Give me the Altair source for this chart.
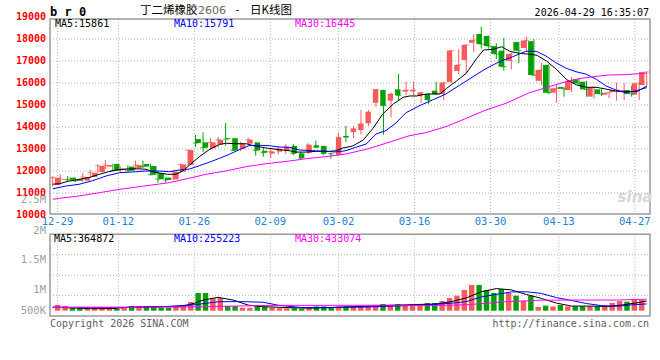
import altair as alt
import pandas as pd

# ---------------- data ----------------
open_p = [11360, 11600, 11700, 11640, 11560, 11730, 11950, 12200, 12320, 12050,
          12200, 12120, 12320, 12230, 11900, 11700, 11620, 11970, 12270, 13450,
          13300, 13030, 13210, 13490, 13490, 13000, 13240, 13300, 12920, 12790,
          12880, 12910, 13140, 12800, 12830, 13170, 13140, 12800, 12720, 13590,
          13770, 13860, 14170, 15100, 15680, 15200, 15710, 15610, 15620, 15440,
          15500, 15650, 15500, 16050, 16550, 17050, 17830, 18230, 18140, 17680,
          17470, 17010, 17860, 17590, 17900, 16100, 16820, 15560, 15820, 15680,
          16170, 16060, 15380, 15710, 15470, 15590, 15630, 15680, 15470, 15910]
high_p = [11780, 11860, 11770, 11710, 11900, 12050, 12320, 12500, 12330, 12200,
          12260, 12470, 12470, 12320, 11990, 11700, 11990, 12330, 12960, 13640,
          13760, 13490, 13550, 14180, 13500, 13330, 13510, 13310, 13090, 13050,
          13090, 13220, 13230, 12860, 13260, 13380, 13150, 12820, 13740, 14050,
          14050, 14770, 14770, 15720, 15700, 15560, 16410, 16050, 16080, 15600,
          15520, 16050, 16060, 17470, 17530, 17730, 18230, 18560, 18150, 17800,
          18050, 17380, 17870, 18110, 17990, 16920, 16850, 15910, 15830, 16260,
          16200, 16100, 15820, 15720, 15600, 16010, 15990, 15860, 16000, 16520]
low_p = [11300, 11440, 11520, 11500, 11510, 11700, 11900, 12080, 12000, 11930,
         11970, 12050, 12140, 11800, 11470, 11470, 11580, 11950, 12240, 13090,
         12850, 12970, 13060, 13150, 12900, 12910, 13220, 12700, 12640, 12600,
         12760, 12760, 12710, 12530, 12770, 13050, 12740, 12560, 12700, 13320,
         13500, 13650, 14050, 14920, 13650, 14440, 15200, 15440, 15440, 15100,
         15050, 15480, 15230, 16000, 16410, 16440, 17410, 17560, 17560, 17080,
         16560, 16620, 16900, 17410, 16320, 15910, 15500, 15100, 15380, 15590,
         15860, 15380, 15290, 15410, 15320, 15200, 15230, 15380, 15230, 15850]
close_p = [11700, 11630, 11600, 11560, 11730, 11920, 12230, 12270, 12010, 12100,
           12010, 12270, 12200, 11830, 11630, 11590, 11970, 12300, 12950, 13270,
           13060, 13300, 13420, 13450, 12940, 13240, 13420, 12940, 12830, 12880,
           13000, 13090, 12800, 12590, 13180, 13080, 12800, 12780, 13530, 13540,
           13920, 14140, 14680, 15710, 14970, 15500, 15440, 15680, 15680, 15560,
           15230, 15500, 16010, 17470, 16820, 17730, 17950, 17770, 17680, 17320,
           16740, 17320, 17470, 17930, 16360, 16590, 15560, 15760, 15740, 16100,
           15990, 15710, 15800, 15500, 15560, 15680, 15660, 15500, 15990, 16500]
volume = [214000, 176000, 94000, 94000, 75000, 75000, 139000, 139000, 75000, 139000,
          176000, 176000, 176000, 176000, 113000, 113000, 139000, 214000, 326000, 664000,
          664000, 476000, 476000, 176000, 176000, 113000, 113000, 176000, 139000, 113000,
          94000, 94000, 94000, 75000, 94000, 161000, 161000, 113000, 161000, 161000,
          161000, 161000, 161000, 161000, 251000, 214000, 251000, 214000, 214000, 251000,
          289000, 289000, 364000, 476000, 563000, 776000, 964000, 964000, 776000, 664000,
          814000, 664000, 563000, 364000, 563000, 139000, 188000, 161000, 214000, 161000,
          161000, 161000, 161000, 161000, 161000, 289000, 364000, 338000, 401000, 401000]

# moving-average lines (candle index, value)
ma5_i = [0, 0.9, 2, 3.5, 4.9, 6.2, 7.3, 8.4, 9.8, 11.1, 12.4, 13.3, 14.4, 15.3, 16.4, 17.3,
         18.2, 19.5, 20.9, 22.2, 23.1, 24.4, 25.7, 27.1, 28.4, 29.7, 31.5, 32.4, 33.7, 35.1,
         36.8, 37.7, 38.6, 39.9, 41.3, 42.6, 43.9, 45.3, 46.6, 47.5, 48.4, 49.7, 51.5, 52.4,
         53.7, 55, 56.4, 57.3, 58.6, 59.7, 60.8, 62.1, 63.5, 64.4, 65.7, 67, 68.4, 69.7, 71,
         72.3, 73.7, 75, 76.3, 77.7, 79]
ma5_v = [11400, 11420, 11530, 11620, 11710, 11850, 11955, 12045, 12090, 12100, 12080, 11970,
         11895, 11850, 11850, 12000, 12270, 12650, 12990, 13210, 13260, 13240, 13240, 13120,
         13045, 12990, 12920, 12860, 12860, 12895, 12895, 12920, 13045, 13136, 13410, 13940,
         14590, 15045, 15350, 15410, 15410, 15500, 15500, 15760, 16090, 16440, 17120, 17500,
         17530, 17650, 17440, 17350, 17305, 17260, 16990, 16620, 16140, 15910, 15805, 15805,
         15715, 15620, 15620, 15605, 15861]
ma10_i = [0, 1.8, 3.5, 5.3, 7.1, 8.9, 10.6, 12.4, 14.2, 15.5, 16.8, 18.2, 19.5, 20.8, 22.2,
          23.5, 24.8, 26.1, 27.5, 28.8, 30.1, 31.5, 32.8, 34.6, 36.3, 37.7, 39, 40.3, 41.7,
          43, 44.3, 45.6, 47, 48.7, 50.5, 52.3, 54.1, 55.9, 57.6, 59.4, 61.2, 62.9, 64.3,
          65.6, 66.9, 68.3, 69.6, 70.9, 72.3, 73.6, 74.9, 76.2, 77.6, 79]
ma10_v = [11190, 11318, 11395, 11559, 11773, 11923, 11955, 12000, 12000, 11968, 12045, 12090,
          12240, 12395, 12577, 12760, 12968, 13150, 13168, 13150, 13091, 13077, 12955, 12923,
          12895, 12864, 12923, 13077, 13227, 13682, 13832, 14168, 14650, 14955, 15227, 15500,
          15895, 16286, 16650, 16968, 17195, 17440, 17441, 17227, 16923, 16668, 16514, 16409,
          16168, 15864, 15682, 15559, 15650, 15791]
ma30_i = [0, 0.9, 3.5, 6.2, 8.9, 11.5, 14.2, 15.5, 17.7, 20.4, 23, 25.7, 28.4, 31.5, 33.7,
          36.3, 39, 41.7, 44.3, 47.4, 49.6, 52.3, 55, 57.6, 60.3, 63.4, 66, 68.3, 70, 71.8,
          74, 76.2, 79]
ma30_v = [10714, 10759, 10864, 11014, 11168, 11286, 11409, 11470, 11636, 11850, 12000, 12195,
          12332, 12455, 12559, 12650, 12773, 12986, 13259, 13600, 13741, 14014, 14395, 14773,
          15077, 15559, 15832, 16059, 16195, 16286, 16364, 16380, 16445]

vma5_i = [0, 3, 5, 8, 10, 14, 17, 19, 20, 22, 24, 26, 28, 31, 34, 37, 40, 44, 48, 51, 53,
          55, 57, 59, 61, 63, 65, 67, 69, 72, 74, 76, 78, 79]
vma5_v = [130000, 100000, 75000, 80000, 130000, 150000, 150000, 290000, 400000, 500000,
          400000, 210000, 150000, 120000, 95000, 120000, 150000, 190000, 230000, 250000,
          340000, 480000, 710000, 830000, 780000, 610000, 460000, 285000, 175000, 170000,
          160000, 225000, 310000, 364872]
vma10_i = [0, 5, 9, 14, 19, 22, 25, 28, 30, 33, 37, 42, 47, 50, 53, 55, 57, 59, 61, 63, 65,
           67, 69, 71, 73, 75, 77, 79]
vma10_v = [130000, 125000, 122000, 138000, 227000, 336000, 342000, 317000, 205000, 119000,
           114000, 141000, 190000, 217000, 281000, 339000, 515000, 613000, 703000, 711000,
           648000, 490000, 383000, 268000, 191000, 166000, 217000, 255223]
vma30_i = [0, 10, 20, 29, 35, 40, 45, 50, 55, 60, 65, 70, 75, 79]
vma30_v = [125000, 130000, 150000, 200000, 200000, 203000, 209000, 190000, 220000, 336000,
           396000, 400000, 400000, 433074]

tick_idx = [1, 9, 19, 29, 38, 48, 58, 67, 77]
tick_lbl = ["12-29", "01-12", "01-26", "02-09", "03-02", "03-16", "03-30", "04-13", "04-27"]
price_ticks = [10000, 11000, 12000, 13000, 14000, 15000, 16000, 17000, 18000, 19000]
vol_ticks = [500000, 1000000, 1500000, 2000000]
vol_lbls = ["500K", "1M", "1.5M", "2M"]

# ---------------- styling ----------------
RED = "#f85a5a"
GREEN = "#00a000"
GRID = "#b4b4b4"
FRAME = "#9a9a9a"
MONO = "DejaVu Sans Mono"
CJK = "Noto Sans CJK SC"
W = 600
MAIN_H = 195
VOL_TOP, VOL_BOT = 215.3, 297

n = len(open_p)
candles = pd.DataFrame({
    "i": list(range(n)), "open": open_p, "high": high_p, "low": low_p,
    "close": close_p, "vol": volume,
})
candles["dir"] = ["up" if c >= o else "down" for o, c in zip(open_p, close_p)]
candles["v0"] = 0

XC = alt.Scale(domain=[-0.359, 79.44], nice=False, zero=False)
XG = alt.Scale(domain=[0, 79], nice=False, zero=False)
YP = alt.Scale(domain=[10000, 18909], range=[196, 0], nice=False, zero=False)
YV = alt.Scale(domain=[0, 2000000], range=[291.7, 238.4], nice=False, zero=False)
YVA = alt.Scale(domain=[0, 2000000], range=[VOL_BOT, VOL_TOP], nice=False, zero=False)
CLR = alt.Scale(domain=["up", "down"], range=[RED, GREEN])

base = alt.Chart(candles)
layers = []

# gridlines
pgrid = pd.DataFrame({"p": price_ticks[1:-1]})
layers.append(alt.Chart(pgrid).mark_rule(color=GRID, strokeDash=[1, 2], strokeWidth=1).encode(
    y=alt.Y("p:Q", scale=YP, axis=None), x=alt.value(0), x2=alt.value(W)))
tg = pd.DataFrame({"g": tick_idx, "lbl": tick_lbl})
layers.append(alt.Chart(tg).mark_rule(color=GRID, strokeDash=[1, 2], strokeWidth=1).encode(
    x=alt.X("g:Q", scale=XG, axis=None), y=alt.value(0), y2=alt.value(MAIN_H)))
layers.append(alt.Chart(tg).mark_rule(color=GRID, strokeDash=[1, 2], strokeWidth=1).encode(
    x=alt.X("g:Q", scale=XG, axis=None), y=alt.value(VOL_TOP), y2=alt.value(VOL_BOT)))
vgrid = pd.DataFrame({"v": vol_ticks[:-1]})
layers.append(alt.Chart(vgrid).mark_rule(color=GRID, strokeDash=[1, 2], strokeWidth=1).encode(
    y=alt.Y("v:Q", scale=YVA, axis=None), x=alt.value(0), x2=alt.value(W)))

# frames
one = pd.DataFrame({"k": [0]})
layers.append(alt.Chart(one).mark_rect(fill=None, stroke=FRAME, strokeWidth=1.5).encode(
    x=alt.value(0), x2=alt.value(W), y=alt.value(0), y2=alt.value(MAIN_H)))
layers.append(alt.Chart(one).mark_rect(fill=None, stroke=FRAME, strokeWidth=1.5).encode(
    x=alt.value(0), x2=alt.value(W), y=alt.value(VOL_TOP), y2=alt.value(VOL_BOT)))

# watermark
layers.append(alt.Chart(one).mark_text(text="sina", font="DejaVu Sans", fontSize=15,
                                       fontWeight="bold", fontStyle="italic", color="#d6d6d6",
                                       align="center", baseline="middle").encode(
    x=alt.value(585), y=alt.value(178)))

# candles
layers.append(base.mark_rule(strokeWidth=1).encode(
    x=alt.X("i:Q", scale=XC, axis=None),
    y=alt.Y("low:Q", scale=YP, axis=None), y2="high:Q",
    color=alt.Color("dir:N", scale=CLR, legend=None)))
layers.append(base.mark_bar(size=5.4).encode(
    x=alt.X("i:Q", scale=XC, axis=None),
    y=alt.Y("open:Q", scale=YP, axis=None), y2="close:Q",
    color=alt.Color("dir:N", scale=CLR, legend=None)))
layers.append(base.mark_tick(orient="horizontal", size=5.4, thickness=1).encode(
    x=alt.X("i:Q", scale=XC, axis=None),
    y=alt.Y("close:Q", scale=YP, axis=None),
    color=alt.Color("dir:N", scale=CLR, legend=None)))

# MA lines
MACLR = alt.Scale(domain=["MA5", "MA10", "MA30"], range=["#000000", "#0000ff", "#ff00ff"])
ma = pd.concat([
    pd.DataFrame({"i": ma5_i, "v": ma5_v, "m": "MA5"}),
    pd.DataFrame({"i": ma10_i, "v": ma10_v, "m": "MA10"}),
    pd.DataFrame({"i": ma30_i, "v": ma30_v, "m": "MA30"}),
])
layers.append(alt.Chart(ma).mark_line(strokeWidth=1).encode(
    x=alt.X("i:Q", scale=XC, axis=None), y=alt.Y("v:Q", scale=YP, axis=None),
    color=alt.Color("m:N", scale=MACLR, legend=None), detail="m:N", order="i:Q"))

# volume
layers.append(base.mark_bar(size=5.4).encode(
    x=alt.X("i:Q", scale=XC, axis=None),
    y=alt.Y("vol:Q", scale=YV, axis=None), y2="v0:Q",
    color=alt.Color("dir:N", scale=CLR, legend=None)))
vma = pd.concat([
    pd.DataFrame({"i": vma5_i, "v": vma5_v, "m": "MA5"}),
    pd.DataFrame({"i": vma10_i, "v": vma10_v, "m": "MA10"}),
    pd.DataFrame({"i": vma30_i, "v": vma30_v, "m": "MA30"}),
])
layers.append(alt.Chart(vma).mark_line(strokeWidth=1).encode(
    x=alt.X("i:Q", scale=XC, axis=None), y=alt.Y("v:Q", scale=YV, axis=None),
    color=alt.Color("m:N", scale=MACLR, legend=None), detail="m:N", order="i:Q"))

# axis labels
pl = pd.DataFrame({"p": price_ticks, "t": [str(p) for p in price_ticks]})
layers.append(alt.Chart(pl).mark_text(font=MONO, fontSize=10, fontWeight="bold", color="#ff0000",
                                      align="right", baseline="middle").encode(
    y=alt.Y("p:Q", scale=YP, axis=None), x=alt.value(-4), text="t:N"))
layers.append(alt.Chart(tg).mark_text(font=MONO, fontSize=10.5, color="#1e7fd8",
                                      align="center", baseline="middle").encode(
    x=alt.X("g:Q", scale=XG, axis=None), y=alt.value(MAIN_H + 8), text="lbl:N"))
# volume axis labels (Sina places them unevenly relative to their gridlines)
vl = pd.DataFrame({"v": vol_ticks, "t": vol_lbls})
for lbl, dy in zip(vol_lbls, [15, 15, 5, -3]):
    layers.append(alt.Chart(vl).transform_filter(alt.datum.t == lbl).mark_text(
        font=MONO, fontSize=10.5, color="#a0a0a0", align="right", baseline="middle", dy=dy
    ).encode(y=alt.Y("v:Q", scale=YVA, axis=None), x=alt.value(-4), text="t:N"))


def txt(s, x, y, color="#000000", size=10, align="left", weight="normal", font=MONO,
        baseline="middle"):
    return alt.Chart(pd.DataFrame({"t": [s]})).mark_text(
        font=font, fontSize=size, fontWeight=weight, color=color, align=align,
        baseline=baseline).encode(x=alt.value(x), y=alt.value(y), text="t:N")


layers += [
    txt("b r 0", 0, -7, size=12, weight="bold"),
    txt("丁二烯橡胶", 90, -5.5, size=11.5, font=CJK, baseline="alphabetic"),
    txt("2606", 148, -5.5, size=11, font="DejaVu Sans", color="#666666", baseline="alphabetic"),
    txt("-", 187.5, -5.5, size=11.5, font=CJK, align="center", baseline="alphabetic"),
    txt("日K线图", 200, -5.5, size=11.5, font=CJK, baseline="alphabetic"),
    txt("2026-04-29 16:35:07", 599, -6.5, size=10, align="right"),
    txt("MA5:15861", 5, 5),
    txt("MA10:15791", 124, 5, color="#0000ff"),
    txt("MA30:16445", 245, 5, color="#ff00ff"),
    txt("MA5:364872", 4, 220),
    txt("MA10:255223", 124, 220, color="#0000ff"),
    txt("MA30:433074", 245, 220, color="#ff00ff"),
    txt("2.5M", -4, 181, color="#a0a0a0", size=10.5, align="right"),
    txt("Copyright 2026 SINA.COM", 0, 305, color="#606060"),
    txt("http://finance.sina.com.cn", 599, 305, color="#606060", align="right"),
]

chart = alt.layer(*layers).resolve_scale(
    x="independent", y="independent", color="independent"
).properties(
    width=W, height=297,
    padding={"left": 50, "top": 19, "right": 10, "bottom": 44},
    autosize=alt.AutoSizeParams(type="none"),
    background="#ffffff",
).configure_view(stroke=None)

chart.save("out.html", embed_options={"renderer": "svg", "actions": False})
